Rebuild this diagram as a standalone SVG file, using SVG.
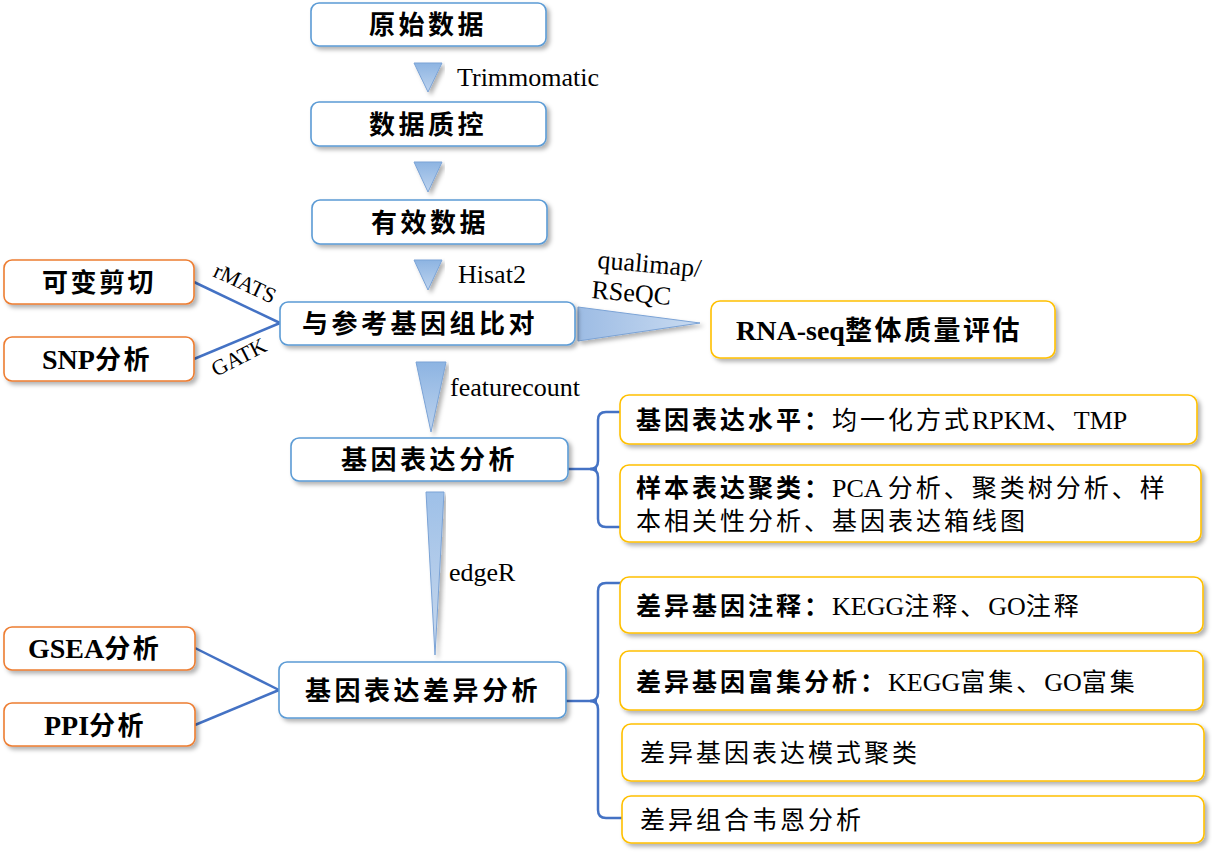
<svg xmlns="http://www.w3.org/2000/svg" width="1212" height="853" viewBox="0 0 1212 853">
<defs>
<filter id="sh" x="-10%" y="-20%" width="120%" height="150%">
<feDropShadow dx="3" dy="3" stdDeviation="2" flood-color="#000" flood-opacity="0.3"/>
</filter>
<linearGradient id="gv" x1="0" y1="0" x2="0" y2="1">
<stop offset="0" stop-color="#8DB4E2"/>
<stop offset="1" stop-color="#BDD3EE"/>
</linearGradient>
<linearGradient id="gv2" x1="0" y1="0" x2="0" y2="1">
<stop offset="0" stop-color="#9EC0E8"/>
<stop offset="1" stop-color="#C8D8EC"/>
</linearGradient>
<linearGradient id="gh" x1="0" y1="0" x2="1" y2="0">
<stop offset="0" stop-color="#9DBCE4"/>
<stop offset="1" stop-color="#C9DBF1"/>
</linearGradient>
<style>
.nb{fill:#fff;stroke:#5B9BD5;stroke-width:1.6;filter:url(#sh)}
.no{fill:#fff;stroke:#ED7D31;stroke-width:1.6;filter:url(#sh)}
.ny{fill:#fff;stroke:#FFC000;stroke-width:1.6;filter:url(#sh)}
.tri{stroke:#7BA3D6;stroke-width:1;filter:url(#sh)}
.ln{stroke:#4472C4;stroke-width:2.5;fill:none}
.t{fill:#000}
.cb{font-family:"Noto Sans CJK SC",sans-serif;font-size:26px;font-weight:700;letter-spacing:3.5px}
.co{font-family:"Noto Sans CJK SC",sans-serif;font-size:26px;font-weight:700;letter-spacing:2.5px}
.cy{font-family:"Noto Sans CJK SC",sans-serif;font-size:25px;letter-spacing:3px}
.cyb{font-family:"Noto Sans CJK SC",sans-serif;font-size:25px;font-weight:700;letter-spacing:3px}
.lb{font-family:"Liberation Serif",serif;font-size:28px;font-weight:700;letter-spacing:0}
.ly{font-family:"Liberation Serif",serif;font-size:26px;letter-spacing:0}
.lbl{font-family:"Liberation Serif",serif;font-size:26px;fill:#000}
.lbs{font-family:"Liberation Serif",serif;font-size:22px;fill:#000}
</style>
</defs>

<g id="connectors">
<line class="ln" x1="194" y1="282" x2="280" y2="323"/>
<line class="ln" x1="194" y1="359" x2="280" y2="323"/>
<line class="ln" x1="195" y1="648" x2="279" y2="690"/>
<line class="ln" x1="195" y1="725" x2="279" y2="690"/>
<line class="ln" x1="568" y1="469" x2="597" y2="469"/>
<path class="ln" d="M622,412 L606,412 Q598,412 598,420 L598,461 Q598,469 590,469 Q598,469 598,477 L598,519 Q598,527 606,527 L622,527"/>
<line class="ln" x1="566" y1="701" x2="597" y2="701"/>
<path class="ln" d="M622,583 L606,583 Q598,583 598,591 L598,693 Q598,701 590,701 Q598,701 598,709 L598,810 Q598,818 606,818 L622,818"/>
<polygon class="tri" fill="url(#gv)" points="414,63 442,63 428,92"/>
<polygon class="tri" fill="url(#gv)" points="414,162 442,162 428,192"/>
<polygon class="tri" fill="url(#gv)" points="414,260 442,260 428,290"/>
<polygon class="tri" fill="url(#gv)" points="416,362 446,362 431,432"/>
<polygon class="tri" fill="url(#gv2)" stroke="#9AA9BC" points="426,492 444,492 435,655"/>
<polygon class="tri" fill="url(#gh)" points="578,307 578,341 700,323"/>
<text class="lbl" x="457" y="86">Trimmomatic</text>
<text class="lbl" x="458" y="283">Hisat2</text>
<text class="lbl" x="450" y="396">featurecount</text>
<text class="lbl" x="449" y="581">edgeR</text>
<text class="lbl" x="597" y="268" transform="rotate(5 597 268)">qualimap/</text>
<text class="lbl" x="591" y="298" transform="rotate(5 591 298)">RSeQC</text>
<text class="lbs" x="212" y="276" transform="rotate(25 212 276)">rMATS</text>
<text class="lbs" x="216" y="377" transform="rotate(-27 216 377)">GATK</text>
</g>

<g id="n1"><rect class="nb" x="311" y="3" width="235" height="43" rx="8"/><text class="t" x="369" y="34"><tspan class="cb">原始数据</tspan></text></g>
<g id="n2"><rect class="nb" x="311" y="102" width="235" height="44" rx="8"/><text class="t" x="369" y="134"><tspan class="cb">数据质控</tspan></text></g>
<g id="n3"><rect class="nb" x="312" y="200" width="235" height="44" rx="8"/><text class="t" x="371" y="232"><tspan class="cb">有效数据</tspan></text></g>
<g id="n4"><rect class="nb" x="280" y="302" width="295" height="43" rx="8"/><text class="t" x="302" y="333"><tspan class="cb">与参考基因组比对</tspan></text></g>
<g id="n5"><rect class="nb" x="291" y="438" width="277" height="43" rx="8"/><text class="t" x="341" y="469"><tspan class="cb">基因表达分析</tspan></text></g>
<g id="n6"><rect class="nb" x="279" y="662" width="287" height="56" rx="8"/><text class="t" x="305" y="700"><tspan class="cb">基因表达差异分析</tspan></text></g>

<g id="o1"><rect class="no" x="4" y="260" width="190" height="44" rx="8"/><text class="t" x="42" y="292"><tspan class="co">可变剪切</tspan></text></g>
<g id="o2"><rect class="no" x="4" y="337" width="190" height="44" rx="8"/><text class="t" x="42" y="369"><tspan class="lb">SNP</tspan><tspan class="co">分析</tspan></text></g>
<g id="o3"><rect class="no" x="4" y="627" width="191" height="43" rx="8"/><text class="t" x="28" y="658"><tspan class="lb">GSEA</tspan><tspan class="co">分析</tspan></text></g>
<g id="o4"><rect class="no" x="4" y="703" width="191" height="43" rx="8"/><text class="t" x="44" y="735"><tspan class="lb">PPI</tspan><tspan class="co">分析</tspan></text></g>

<g id="y0"><rect class="ny" x="711" y="301" width="344" height="57" rx="9"/><text class="t" x="736" y="340"><tspan class="lb">RNA-seq</tspan><tspan class="co" style="font-size:27px;letter-spacing:2.5px">整体质量评估</tspan></text></g>
<g id="y1"><rect class="ny" x="620" y="395" width="577" height="49" rx="9"/><text class="t" x="636" y="429"><tspan class="cyb">基因表达水平：</tspan><tspan class="cy">均一化方式</tspan><tspan class="ly">RPKM</tspan><tspan class="cy">、</tspan><tspan class="ly">TMP</tspan></text></g>
<g id="y2"><rect class="ny" x="620" y="465" width="581" height="77" rx="9"/><text class="t" x="636" y="497"><tspan class="cyb">样本表达聚类：</tspan><tspan class="ly">PCA </tspan><tspan class="cy">分析、聚类树分析、样</tspan></text><text class="t" x="636" y="530"><tspan class="cy">本相关性分析、基因表达箱线图</tspan></text></g>
<g id="y3"><rect class="ny" x="620" y="577" width="583" height="56" rx="9"/><text class="t" x="636" y="615"><tspan class="cyb">差异基因注释：</tspan><tspan class="ly">KEGG</tspan><tspan class="cy">注释、</tspan><tspan class="ly">GO</tspan><tspan class="cy">注释</tspan></text></g>
<g id="y4"><rect class="ny" x="620" y="651" width="583" height="59" rx="9"/><text class="t" x="636" y="691"><tspan class="cyb">差异基因富集分析：</tspan><tspan class="ly">KEGG</tspan><tspan class="cy">富集、</tspan><tspan class="ly">GO</tspan><tspan class="cy">富集</tspan></text></g>
<g id="y5"><rect class="ny" x="622" y="724" width="582" height="57" rx="9"/><text class="t" x="640" y="762"><tspan class="cy">差异基因表达模式聚类</tspan></text></g>
<g id="y6"><rect class="ny" x="622" y="796" width="582" height="47" rx="9"/><text class="t" x="640" y="829"><tspan class="cy">差异组合韦恩分析</tspan></text></g>
</svg>
